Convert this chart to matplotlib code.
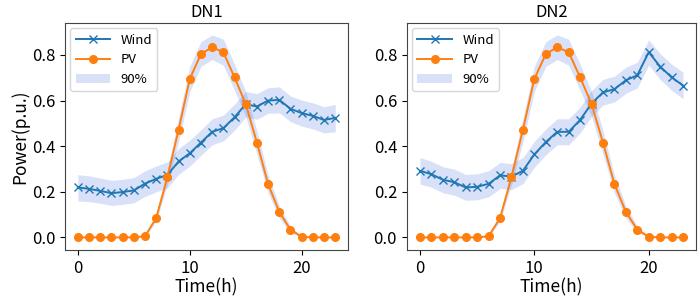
import matplotlib
matplotlib.use("Agg")
import matplotlib.pyplot as plt
import numpy as np

plt.rcParams['font.family'] = ['Noto Sans CJK SC', 'DejaVu Sans']

hours = np.arange(24)

# wind forecast and 90% band, DN1
wind_dn1 = [0.219, 0.213, 0.204, 0.194, 0.199, 0.206, 0.236, 0.257, 0.274, 0.333,
            0.369, 0.416, 0.463, 0.479, 0.527, 0.584, 0.574, 0.600, 0.603, 0.564,
            0.545, 0.533, 0.515, 0.524]
wind_dn1_lo = [0.160, 0.157, 0.150, 0.140, 0.145, 0.152, 0.180, 0.200, 0.218, 0.276,
               0.313, 0.360, 0.406, 0.423, 0.470, 0.528, 0.518, 0.544, 0.546, 0.508,
               0.488, 0.476, 0.458, 0.463]
wind_dn1_hi = [0.275, 0.270, 0.260, 0.250, 0.255, 0.262, 0.292, 0.313, 0.331, 0.390,
               0.426, 0.472, 0.520, 0.536, 0.584, 0.640, 0.630, 0.656, 0.660, 0.620,
               0.602, 0.590, 0.573, 0.583]

# wind forecast and 90% band, DN2
wind_dn2 = [0.292, 0.277, 0.253, 0.242, 0.219, 0.222, 0.235, 0.272, 0.267, 0.292,
            0.364, 0.418, 0.463, 0.463, 0.515, 0.587, 0.636, 0.650, 0.689, 0.711,
            0.812, 0.749, 0.702, 0.666]
wind_dn2_lo = [0.234, 0.220, 0.196, 0.185, 0.163, 0.165, 0.178, 0.215, 0.210, 0.236,
               0.308, 0.362, 0.406, 0.406, 0.458, 0.530, 0.580, 0.594, 0.632, 0.655,
               0.756, 0.692, 0.645, 0.608]
wind_dn2_hi = [0.350, 0.334, 0.310, 0.299, 0.276, 0.279, 0.292, 0.329, 0.324, 0.350,
               0.421, 0.475, 0.520, 0.520, 0.572, 0.644, 0.693, 0.707, 0.746, 0.768,
               0.866, 0.806, 0.760, 0.724]

# PV forecast and 90% band (same in both networks)
pv = [0, 0, 0, 0, 0, 0, 0.005, 0.085, 0.264, 0.472, 0.695, 0.804, 0.834, 0.812,
      0.702, 0.585, 0.416, 0.234, 0.112, 0.034, 0.003, 0, 0, 0]
pv_lo = [0, 0, 0, 0, 0, 0, 0.003, 0.070, 0.230, 0.420, 0.640, 0.750, 0.780, 0.755,
         0.645, 0.530, 0.365, 0.195, 0.085, 0.020, 0.001, 0, 0, 0]
pv_hi = [0, 0, 0, 0, 0, 0, 0.008, 0.100, 0.298, 0.524, 0.750, 0.858, 0.888, 0.869,
         0.759, 0.640, 0.467, 0.273, 0.139, 0.048, 0.005, 0, 0, 0]

titles = ["DN1", "DN2"]
winds = [(wind_dn1, wind_dn1_lo, wind_dn1_hi), (wind_dn2, wind_dn2_lo, wind_dn2_hi)]

fig = plt.figure(figsize=(6.99, 2.99), dpi=100)
rects = [[0.093, 0.164, 0.405, 0.759], [0.582, 0.164, 0.414, 0.759]]

for i in range(2):
    ax = fig.add_axes(rects[i])
    w, wlo, whi = winds[i]
    ax.plot(hours, w, color="#1f77b4", marker="x", markersize=5.5, lw=1.4, label="Wind")
    ax.plot(hours, pv, color="#ff7f0e", marker="o", markersize=5.5, lw=1.4, label="PV")
    ax.fill_between(hours, wlo, whi, color="royalblue", alpha=0.2, lw=0, label="90%")
    ax.fill_between(hours, pv_lo, pv_hi, color="royalblue", alpha=0.2, lw=0)
    ax.set_xlim(-1.15, 24.15)
    ax.set_ylim(-0.055, 0.94)
    ax.set_xticks([0, 10, 20])
    ax.set_yticks([0.0, 0.2, 0.4, 0.6, 0.8])
    ax.tick_params(labelsize=12)
    for s in ax.spines.values():
        s.set_color("#444444")
    ax.set_xlabel("Time(h)", fontsize=12.5, labelpad=1)
    if i == 0:
        ax.set_ylabel("Power(p.u.)", fontsize=12.5, labelpad=2)
    ax.set_title(titles[i], fontsize=12, pad=4)
    ax.legend(loc="upper left", fontsize=9.5, handlelength=2.6, borderaxespad=0.4)

plt.savefig("out.png", dpi=100)
